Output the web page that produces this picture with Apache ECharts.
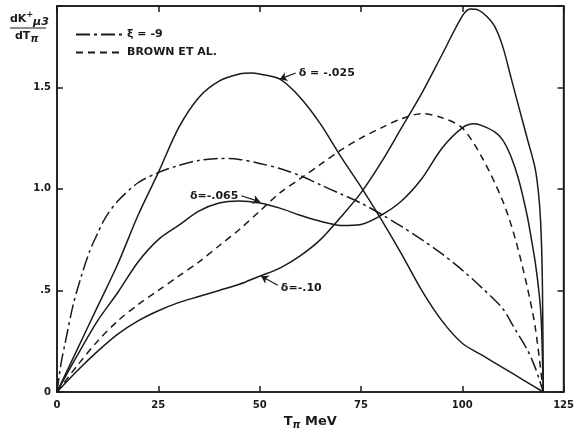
<!DOCTYPE html>
<html><head><meta charset="utf-8">
<script src="https://cdn.jsdelivr.net/npm/echarts@6/dist/echarts.min.js"></script>
<style>html,body{margin:0;padding:0;background:#fff}#c{width:577px;height:435px}</style>
</head><body><div id="c"></div>
<script>
// T_pi (MeV) values and curve values
const xTicks = [0, 25, 50, 75, 100, 125];
const yTickLabels = {0: '0', 0.5: '.5', 1: '1.0', 1.5: '1.5'};

const d025X = [0,5,10,15,20,25,30,35,40,45,48,50,55,60,65,70,75,80,85,90,95,100,105,110,115,120];
const d025Y = [0,0.21,0.42,0.63,0.87,1.08,1.30,1.45,1.53,1.565,1.57,1.565,1.54,1.45,1.32,1.16,1.01,0.85,0.68,0.50,0.35,0.24,0.18,0.12,0.06,0];

const d065X = [0,5,10,15,20,25,30,35,40,45,50,55,60,65,70,75,80,85,90,95,100,103,105,108,110,112,114,116,117,118,119,119.5,120];
const d065Y = [0,0.18,0.35,0.49,0.64,0.75,0.82,0.89,0.93,0.94,0.93,0.905,0.87,0.84,0.82,0.825,0.87,0.94,1.05,1.20,1.30,1.32,1.31,1.28,1.24,1.16,1.04,0.87,0.76,0.64,0.48,0.35,0];

const d10X = [0,5,10,15,20,25,30,35,40,45,50,55,60,65,70,75,80,85,90,95,100,102,104,106,108,110,112,114,116,118,119,119.5,119.8,120];
const d10Y = [0,0.105,0.2,0.285,0.35,0.40,0.44,0.47,0.50,0.53,0.57,0.61,0.67,0.75,0.86,0.98,1.13,1.30,1.47,1.66,1.85,1.885,1.88,1.85,1.80,1.70,1.55,1.40,1.25,1.10,0.94,0.76,0.5,0];

const brownX = [0,5,10,15,20,25,30,35,40,45,50,55,60,65,70,75,80,85,90,95,100,105,110,113,116,118,120];
const brownY = [0,0.13,0.25,0.35,0.43,0.50,0.57,0.64,0.72,0.80,0.89,0.98,1.05,1.12,1.19,1.25,1.30,1.345,1.37,1.35,1.30,1.15,0.94,0.76,0.52,0.32,0];

const xiX = [0,1,2,4,6,8,10,12,15,20,25,30,35,40,45,50,55,60,65,70,75,80,85,90,95,100,105,110,113,116,118,120];
const xiY = [0,0.14,0.24,0.43,0.57,0.69,0.78,0.86,0.94,1.03,1.08,1.115,1.14,1.15,1.145,1.125,1.10,1.065,1.02,0.975,0.93,0.875,0.815,0.75,0.68,0.60,0.51,0.41,0.31,0.21,0.12,0];

// annotation arrows: [tailX, tailY, tipX, tipY]
const arrow025 = [58.9, 1.57, 55, 1.54];
const arrow065 = [45.5, 0.966, 50.1, 0.936];
const arrow10  = [54.5, 0.525, 50.4, 0.57];

const zip = (a, b) => a.map((v, i) => [v, b[i]]);
const FONT = 'DejaVu Sans';
const INK = '#1a1a1a';

const chart = echarts.init(document.getElementById('c'));

function lineSeries(name, xs, ys, type) {
  return {
    name: name, type: 'line', data: zip(xs, ys), showSymbol: false, symbol: 'none',
    smooth: 0.3,
    lineStyle: {color: INK, width: 1.5, type: type},
    itemStyle: {color: INK},
    silent: true, animation: false, z: 3
  };
}

function arrowLine(a) {
  return [{coord: [a[0], a[1]]}, {coord: [a[2], a[3]]}];
}

const axisLineStyle = {show: true, onZero: false, lineStyle: {color: INK, width: 1.5}};
const tickStyle = {show: true, inside: true, length: 6, lineStyle: {color: INK, width: 1.5}};

const option = {
  animation: false,
  backgroundColor: '#fff',
  grid: {left: 57, right: 9, top: 6, bottom: 41, show: true, borderColor: INK, borderWidth: 1.5, backgroundColor: 'transparent'},
  legend: {
    data: ['ξ = -9', 'BROWN ET AL.'],
    orient: 'vertical', left: 70, top: 24, itemWidth: 46, itemHeight: 10, itemGap: 7,
    itemStyle: {color: 'transparent', borderWidth: 0},
    textStyle: {fontFamily: FONT, fontSize: 11, color: INK, fontWeight: 'bold'},
    selectedMode: false
  },
  xAxis: [{
    type: 'value', min: 0, max: 125, interval: 25,
    axisLine: axisLineStyle, axisTick: tickStyle,
    axisLabel: {fontFamily: FONT, fontSize: 10, color: INK, margin: 8, fontWeight: 'bold'},
    splitLine: {show: false},
    name: 'T{s|π} MeV', nameLocation: 'middle', nameGap: 22,
    nameTextStyle: {fontFamily: FONT, fontSize: 13, color: INK, fontWeight: 'bold',
      rich: {s: {fontFamily: FONT, fontSize: 10, color: INK, fontWeight: 'bold', fontStyle: 'italic', padding: [6, 0, 0, 0]}}}
  }, {
    type: 'value', min: 0, max: 125, interval: 25, position: 'top',
    axisLine: axisLineStyle, axisTick: tickStyle,
    axisLabel: {show: false}, splitLine: {show: false}
  }],
  yAxis: [{
    type: 'value', min: 0, max: 1.9, interval: 0.5,
    axisLine: axisLineStyle, axisTick: tickStyle,
    axisLabel: {fontFamily: FONT, fontSize: 10, color: INK, margin: 6, fontWeight: 'bold',
      formatter: v => (yTickLabels[v] !== undefined ? yTickLabels[v] : '')},
    splitLine: {show: false}
  }, {
    type: 'value', min: 0, max: 1.9, interval: 0.5, position: 'right',
    axisLine: axisLineStyle, axisTick: tickStyle,
    axisLabel: {show: false}, splitLine: {show: false}
  }],
  series: [
    lineSeries('ξ = -9', xiX, xiY, [14, 4, 3, 4]),
    lineSeries('BROWN ET AL.', brownX, brownY, [7, 5]),
    Object.assign(lineSeries('δ = -.025', d025X, d025Y, 'solid'), {
      markLine: {silent: true, symbol: ['none', 'arrow'], symbolSize: 7, label: {show: false},
        lineStyle: {color: INK, width: 1.2, type: 'solid'}, data: [arrowLine(arrow025)]}
    }),
    Object.assign(lineSeries('δ = -.065', d065X, d065Y, 'solid'), {
      markLine: {silent: true, symbol: ['none', 'arrow'], symbolSize: 7, label: {show: false},
        lineStyle: {color: INK, width: 1.2, type: 'solid'}, data: [arrowLine(arrow065)]}
    }),
    Object.assign(lineSeries('δ = -.10', d10X, d10Y, 'solid'), {
      markLine: {silent: true, symbol: ['none', 'arrow'], symbolSize: 7, label: {show: false},
        lineStyle: {color: INK, width: 1.2, type: 'solid'}, data: [arrowLine(arrow10)]}
    }),
    {type: 'line', name: 'frame', xAxisIndex: 1, yAxisIndex: 1, data: [], silent: true}
  ]
};
chart.setOption(option);

// annotation labels positioned from data coordinates
const p025 = chart.convertToPixel({xAxisIndex: 0, yAxisIndex: 0}, [arrow025[0], arrow025[1]]);
const p065 = chart.convertToPixel({xAxisIndex: 0, yAxisIndex: 0}, [arrow065[0], arrow065[1]]);
const p10  = chart.convertToPixel({xAxisIndex: 0, yAxisIndex: 0}, [arrow10[0], arrow10[1]]);
const annStyle = {fontFamily: FONT, fontSize: 11, fill: INK, fontWeight: 'bold'};

chart.setOption({
  graphic: [
    {type: 'text', left: 10, top: 11, style: Object.assign({}, annStyle, {
      text: '{a|dK}{p|+}{m|μ3}', rich: {
        a: {fontFamily: FONT, fontSize: 11, fill: INK, fontWeight: 'bold'},
        p: {fontFamily: FONT, fontSize: 8, fill: INK, fontWeight: 'bold', padding: [0, 0, 8, 0]},
        m: {fontFamily: FONT, fontSize: 11, fill: INK, fontWeight: 'bold', fontStyle: 'italic', padding: [6, 0, 0, 0]}}})},
    {type: 'line', shape: {x1: 10, y1: 28, x2: 46, y2: 28}, style: {stroke: INK, lineWidth: 1.2}},
    {type: 'text', left: 15, top: 31, style: Object.assign({}, annStyle, {
      text: '{a|dT}{m|π}', rich: {
        a: {fontFamily: FONT, fontSize: 11, fill: INK, fontWeight: 'bold'},
        m: {fontFamily: FONT, fontSize: 10, fill: INK, fontWeight: 'bold', fontStyle: 'italic', padding: [5, 0, 0, 0]}}})},
    {type: 'text', x: p025[0] + 3, y: p025[1], style: Object.assign({}, annStyle, {text: 'δ = -.025', verticalAlign: 'middle', align: 'left'})},
    {type: 'text', x: p065[0] - 3, y: p065[1], style: Object.assign({}, annStyle, {text: 'δ=-.065', verticalAlign: 'middle', align: 'right'})},
    {type: 'text', x: p10[0] + 3, y: p10[1] + 3, style: Object.assign({}, annStyle, {text: 'δ=-.10', verticalAlign: 'middle', align: 'left'})}
  ]
});
</script></body></html>
